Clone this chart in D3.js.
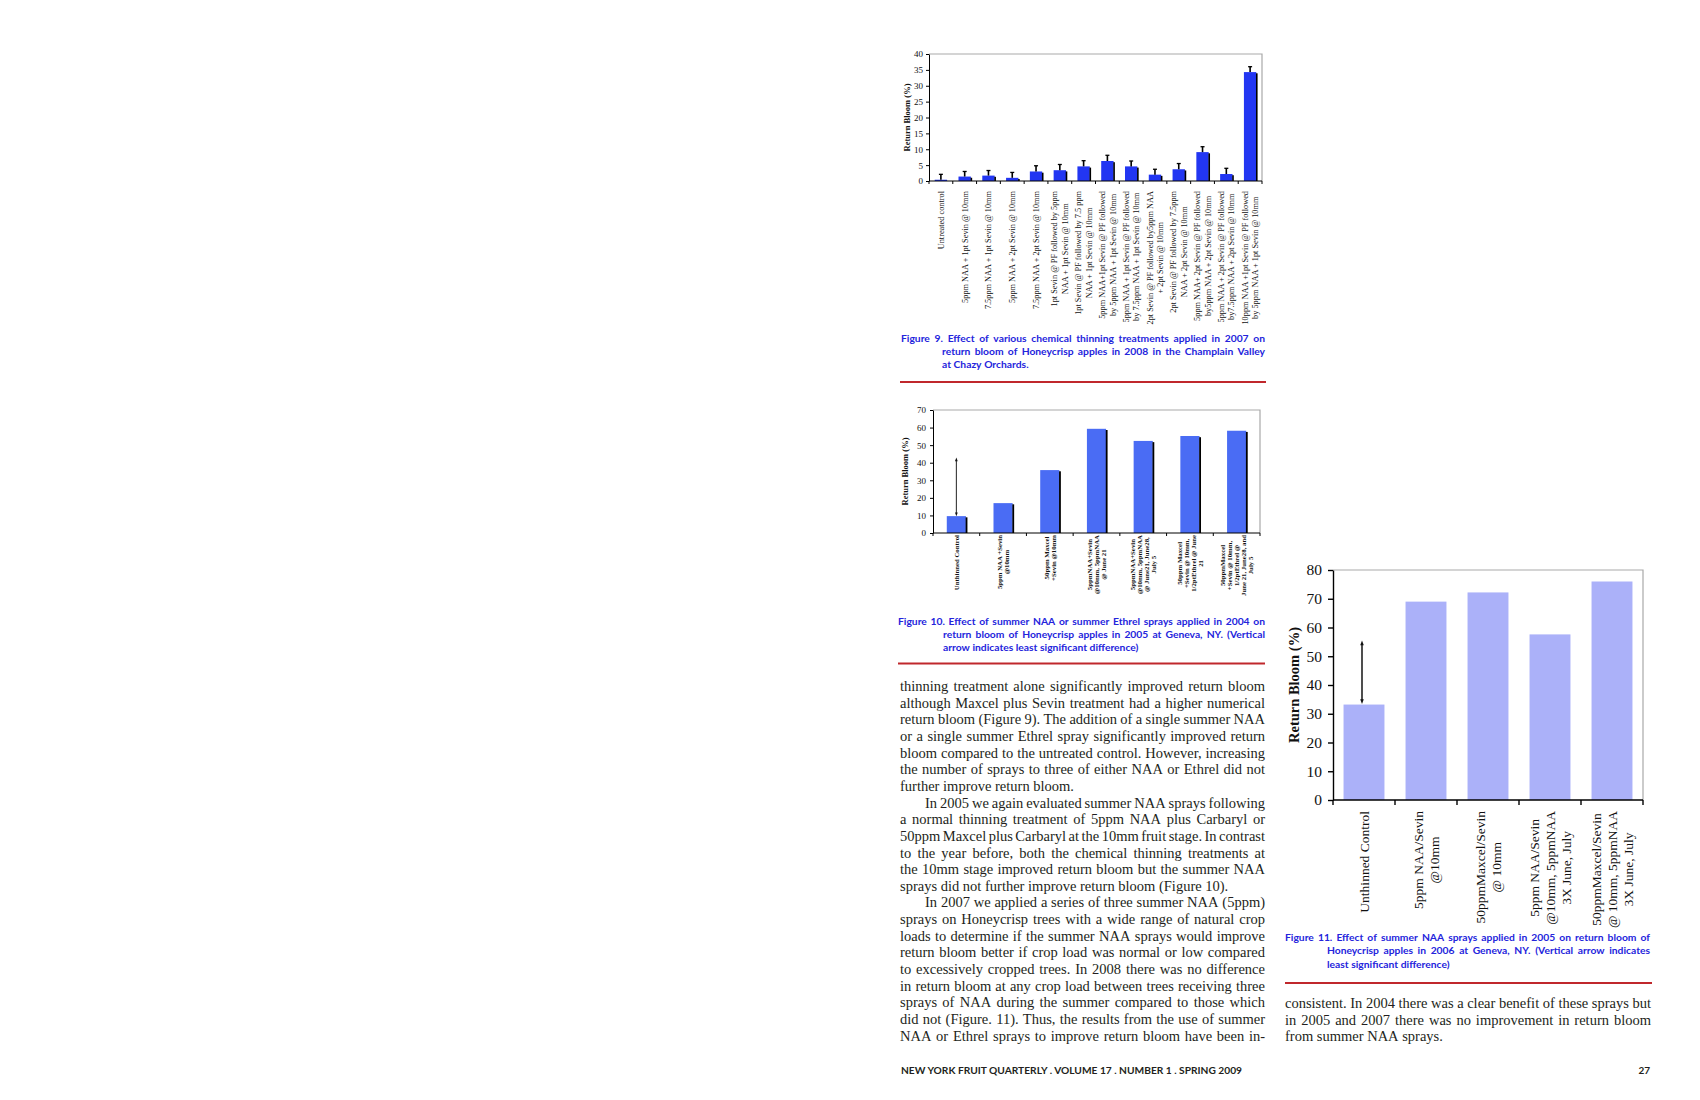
<!DOCTYPE html>
<html><head><meta charset="utf-8">
<script src="https://cdn.jsdelivr.net/npm/d3@7"></script>
<style>body{margin:0;background:#fff}svg{display:block}</style>
</head><body>
<svg id="page" width="1700" height="1100"></svg>
<script>
// ---------------- DATA ----------------
const fig9Categories = [
  "Untreated control",
  "5ppm NAA + 1pt Sevin @ 10mm",
  "7.5ppm NAA + 1pt Sevin @ 10mm",
  "5ppm NAA + 2pt Sevin @ 10mm",
  "7.5ppm NAA + 2pt Sevin @ 10mm",
  "1pt Sevin @ PF followed by 5ppm\nNAA + 1pt Sevin @ 10mm",
  "1pt Sevin @ PF followed by 7.5 ppm\nNAA + 1pt Sevin @ 10mm",
  "5ppm NAA+1pt Sevin @ PF followed\nby 5ppm NAA + 1pt Sevin @ 10mm",
  "5ppm NAA + 1pt Sevin @  PF followed\nby 7.5ppm NAA + 1pt Sevin @ 10mm",
  "2pt Sevin @ PF followed by5ppm NAA\n+ 2pt Sevin @ 10mm",
  "2pt Sevin @ PF followed by 7.5ppm\nNAA + 2pt Sevin @ 10mm",
  "5ppm NAA+ 2pt Sevin @ PF followed\nby5ppm NAA + 2pt Sevin @ 10mm",
  "5ppm NAA + 2pt Sevin @ PF followed\nby7.5ppm NAA + 2pt Sevin @ 10mm",
  "10ppm NAA +1pt Sevin @ PF followed\nby 5ppm NAA + 1pt Sevin @ 10mm"
];
const fig9Values = [0.4, 1.4, 1.7, 1.0, 3.0, 3.4, 4.6, 6.3, 4.6, 2.0, 3.7, 9.1, 2.2, 34.3];
const fig9Errors = [1.7, 1.6, 1.6, 1.7, 1.8, 1.8, 1.8, 1.8, 1.7, 1.7, 1.8, 1.7, 1.8, 1.7];
const fig9Ticks = [0, 5, 10, 15, 20, 25, 30, 35, 40];

const fig10Categories = [
  "Unthinned Control",
  "5ppm NAA +Sevin\n@10mm",
  "50ppm Maxcel\n+Sevin @10mm",
  "5ppmNAA+Sevin\n@10mm, 5ppmNAA\n@  June 21",
  "5ppmNAA+Sevin\n@10mm, 5ppmNAA\n@  June21, June28,\nJuly 5",
  "50ppm Maxcel\n+Sevin @ 10mm,\n1/2ptEthrel @  June\n21",
  "50ppmMaxcel\n+Sevin @ 10mm,\n1/2ptEthrel @\nJune 21, June28, and\nJuly 5"
];
const fig10Values = [9.6, 17.0, 35.8, 59.3, 52.4, 55.2, 58.2];
const fig10Lsd = [9.6, 43];
const fig10Ticks = [0, 10, 20, 30, 40, 50, 60, 70];

const fig11Categories = [
  "Unthinned Control",
  "5ppm NAA/Sevin\n@10mm",
  "50ppmMaxcel/Sevin\n@ 10mm",
  "5ppm NAA/Sevin\n@10mm, 5ppmNAA\n3X June, July",
  "50ppmMaxcel/Sevin\n@ 10mm, 5ppmNAA\n3X June, July"
];
const fig11Values = [33.2, 69.0, 72.2, 57.6, 76.0];
const fig11Lsd = [33.4, 55.5];
const fig11Ticks = [0, 10, 20, 30, 40, 50, 60, 70, 80];

const fig9Caption = [
  {t: "Figure 9. Effect of various chemical thinning treatments applied in 2007 on", ind: 0},
  {t: "return bloom of Honeycrisp apples in 2008 in the Champlain Valley", ind: 41},
  {t: "at Chazy Orchards.", ind: 41, last: true}
];
const fig10Caption = [
  {t: "Figure 10. Effect of summer NAA or summer Ethrel sprays applied in 2004 on", ind: 0},
  {t: "return bloom of Honeycrisp apples in 2005 at Geneva, NY. (Vertical", ind: 45},
  {t: "arrow indicates least significant difference)", ind: 45, last: true}
];
const fig11Caption = [
  {t: "Figure 11. Effect of summer NAA sprays applied in 2005 on return bloom of", ind: 0},
  {t: "Honeycrisp apples in 2006 at Geneva, NY. (Vertical arrow indicates", ind: 42},
  {t: "least significant difference)", ind: 42, last: true}
];
const leftText = [
  {t: "thinning treatment alone significantly improved return bloom"},
  {t: "although Maxcel plus Sevin treatment had a higher numerical"},
  {t: "return bloom (Figure 9). The addition of a single summer NAA"},
  {t: "or a single summer Ethrel spray significantly improved return"},
  {t: "bloom compared to the untreated control. However, increasing"},
  {t: "the number of sprays to three of either NAA or Ethrel did not"},
  {t: "further improve return bloom.", last: true},
  {t: "In 2005 we again evaluated summer NAA sprays following", ind: 25},
  {t: "a normal thinning treatment of 5ppm NAA plus Carbaryl or"},
  {t: "50ppm Maxcel plus Carbaryl at the 10mm fruit stage. In contrast"},
  {t: "to the year before, both the chemical thinning treatments at"},
  {t: "the 10mm stage improved return bloom but the summer NAA"},
  {t: "sprays did not further improve return bloom (Figure 10).", last: true},
  {t: "In 2007 we applied a series of three summer NAA (5ppm)", ind: 25},
  {t: "sprays on Honeycrisp trees with a wide range of natural crop"},
  {t: "loads to determine if the summer NAA sprays would improve"},
  {t: "return bloom better if crop load was normal or low compared"},
  {t: "to excessively cropped trees. In 2008 there was no difference"},
  {t: "in return bloom at any crop load between trees receiving three"},
  {t: "sprays of NAA during the summer compared to those which"},
  {t: "did not (Figure. 11). Thus, the results from the use of summer"},
  {t: "NAA or Ethrel sprays to improve return bloom have been in-"}
];
const rightText = [
  {t: "consistent. In 2004 there was a clear benefit of these sprays but"},
  {t: "in 2005 and 2007 there was no improvement in return bloom"},
  {t: "from summer NAA sprays.", last: true}
];
const footerText = "NEW YORK FRUIT QUARTERLY . VOLUME 17  . NUMBER 1 . SPRING 2009";
const pageNumber = "27";

// ---------------- DRAWING ----------------
const svg = d3.select("#page");
const SERIF = "'Liberation Serif','Times New Roman',serif";
const SANS = "Lato,'Noto Sans','Liberation Sans',sans-serif";
const CAPBLUE = "#2424dc";
const RED = "#c0282c";

function textBlock(lines, o) {
  const g = svg.append("g");
  lines.forEach((ln, i) => {
    const y = o.y + i * o.lh;
    const ind = ln.ind || 0;
    const x0 = o.x + ind, W = o.width - ind;
    const words = ln.t.split(" ").filter(w => w.length);
    const nodes = words.map(w => g.append("text")
      .attr("y", y).attr("font-family", o.font).attr("font-size", o.size)
      .attr("font-weight", o.weight || "normal").attr("fill", o.color).text(w));
    const widths = nodes.map(n => n.node().getComputedTextLength());
    const sum = d3.sum(widths);
    let gap = o.size * 0.25, scale = 1;
    if (!ln.last && words.length > 1) {
      gap = (W - sum) / (words.length - 1);
      const minGap = o.size * 0.16;
      if (gap < minGap) { gap = minGap; scale = (W - minGap * (words.length - 1)) / sum; }
    }
    let cx = x0;
    nodes.forEach((n, k) => {
      n.attr("x", cx);
      if (scale !== 1) n.attr("textLength", widths[k] * scale).attr("lengthAdjust", "spacingAndGlyphs");
      cx += widths[k] * scale + gap;
    });
  });
}

function drawChart(o) {
  const g = svg.append("g");
  const x = d3.scaleBand().domain(o.categories).range([o.x0, o.x1])
    .paddingInner(o.pad).paddingOuter(o.pad / 2);
  const y = d3.scaleLinear().domain([0, o.yMax]).range([o.yB, o.yT]);
  const step = x.step();

  g.append("path").attr("d", `M${o.x0},${o.yT}H${o.x1}V${o.yB}`)
    .attr("fill", "none").attr("stroke", "#a9a9a9").attr("stroke-width", 1.2);

  g.selectAll("rect.bar").data(o.values).join("rect").attr("class", "bar")
    .attr("x", (d, i) => x(o.categories[i])).attr("width", x.bandwidth())
    .attr("y", d => y(d)).attr("height", d => y(0) - y(d)).attr("fill", o.color);
  if (o.shadow) {
    g.selectAll("rect.sh").data(o.values).join("rect").attr("class", "sh")
      .attr("x", (d, i) => x(o.categories[i]) + x.bandwidth() - 0.3).attr("width", o.shadow)
      .attr("y", d => Math.min(y(d) + 1.2, y(0))).attr("height", d => Math.max(0, y(0) - y(d) - 1.2))
      .attr("fill", "#000");
  }
  if (o.errors) {
    o.values.forEach((v, i) => {
      const cx = x(o.categories[i]) + x.bandwidth() / 2;
      g.append("line").attr("x1", cx).attr("x2", cx).attr("y1", y(v)).attr("y2", y(v + o.errors[i]))
        .attr("stroke", "#000").attr("stroke-width", 1.6);
      g.append("line").attr("x1", cx - 2).attr("x2", cx + 2).attr("y1", y(v + o.errors[i])).attr("y2", y(v + o.errors[i]))
        .attr("stroke", "#000").attr("stroke-width", 1.3);
    });
  }
  if (o.lsd) {
    const cx = x(o.categories[0]) + x.bandwidth() / 2 + (o.lsdDx || 0);
    const a = o.arrow;
    const y1 = y(o.lsd[0]), y2 = y(o.lsd[1]);
    g.append("line").attr("x1", cx).attr("x2", cx).attr("y1", y1 - a * 1.5).attr("y2", y2 + a * 1.5)
      .attr("stroke", "#222").attr("stroke-width", o.arrowW);
    g.append("path").attr("d", `M${cx},${y2}l${-a * 0.8},${a * 2.2}h${a * 1.6}z`).attr("fill", "#111");
    g.append("path").attr("d", `M${cx},${y1}l${-a * 0.8},${-a * 2.2}h${a * 1.6}z`).attr("fill", "#111");
  }

  const ya = g.append("g").attr("transform", `translate(${o.x0},0)`)
    .call(d3.axisLeft(y).tickValues(o.ticks).tickSize(o.tickLen).tickSizeOuter(0).tickPadding(o.tickPad));
  ya.select(".domain").attr("stroke", "#000").attr("stroke-width", o.axisW);
  ya.selectAll(".tick line").attr("stroke", "#000").attr("stroke-width", o.axisW);
  ya.selectAll(".tick text").attr("font-family", SERIF).attr("font-size", o.tickFont).attr("fill", "#111");

  g.append("line").attr("x1", o.x0).attr("x2", o.x1).attr("y1", o.yB).attr("y2", o.yB)
    .attr("stroke", "#000").attr("stroke-width", o.axisW);
  const bounds = o.categories.map(c => x(c) - step * o.pad / 2).concat([o.x1]);
  g.selectAll("line.xt").data(bounds).join("line").attr("class", "xt")
    .attr("x1", d => d).attr("x2", d => d).attr("y1", o.yB).attr("y2", o.yB + o.tickLen)
    .attr("stroke", "#000").attr("stroke-width", o.axisW);

  o.categories.forEach((c, i) => {
    const cx = x(c) + x.bandwidth() / 2;
    const lines = c.split("\n");
    const lg = g.append("g").attr("transform", `translate(${cx},${o.labelTop}) rotate(-90)`);
    const ts = lines.map((l, k) => lg.append("text")
      .attr("y", (k - (lines.length - 1) / 2) * o.labelLh + o.labelFont * 0.35)
      .attr("text-anchor", "middle").attr("font-family", SERIF).attr("font-size", o.labelFont)
      .attr("font-weight", o.labelWeight || "normal").attr("fill", "#111").text(l));
    const W = d3.max(ts, t => t.node().getComputedTextLength());
    ts.forEach(t => t.attr("x", -W / 2));
  });

  g.append("text").attr("transform", `translate(${o.titleX},${(o.yT + o.yB) / 2}) rotate(-90)`)
    .attr("text-anchor", "middle").attr("dy", "0.35em").attr("font-family", SERIF)
    .attr("font-weight", "bold").attr("font-size", o.titleFont).attr("fill", "#111").text("Return Bloom (%)");
}

drawChart({
  categories: fig9Categories, values: fig9Values, errors: fig9Errors, ticks: fig9Ticks,
  x0: 929, x1: 1262, yT: 54, yB: 181, yMax: 40, pad: 0.48,
  color: "#2236f2", shadow: 1.6, tickLen: 3, tickPad: 3, tickFont: 9, axisW: 1,
  labelTop: 191, labelFont: 8.3, labelLh: 10.5, titleX: 907, titleFont: 8.5
});
drawChart({
  categories: fig10Categories, values: fig10Values, ticks: fig10Ticks,
  x0: 933, x1: 1260, yT: 410, yB: 533, yMax: 70, pad: 0.59,
  color: "#4a6cf4", shadow: 1.8, tickLen: 3, tickPad: 4, tickFont: 9, axisW: 1,
  lsd: fig10Lsd, arrow: 1.7, arrowW: 1, lsdDx: 0,
  labelTop: 535, labelFont: 6.8, labelLh: 7, labelWeight: "bold", titleX: 905, titleFont: 8.5
});
drawChart({
  categories: fig11Categories, values: fig11Values, ticks: fig11Ticks,
  x0: 1333, x1: 1643, yT: 570, yB: 800, yMax: 80, pad: 0.34,
  color: "#abb1f9", shadow: 0, tickLen: 5, tickPad: 6, tickFont: 15.5, axisW: 1.4,
  lsd: fig11Lsd, arrow: 2.2, arrowW: 1.6, lsdDx: -2,
  labelTop: 811, labelFont: 13.5, labelLh: 16, titleX: 1294, titleFont: 14.5
});

textBlock(fig9Caption, {x: 901, y: 342, lh: 13, width: 364, font: SANS, size: 10.3, weight: "bold", color: CAPBLUE});
textBlock(fig10Caption, {x: 898, y: 625, lh: 13, width: 367, font: SANS, size: 10.3, weight: "bold", color: CAPBLUE});
textBlock(fig11Caption, {x: 1285, y: 940.5, lh: 13.5, width: 365, font: SANS, size: 10.3, weight: "bold", color: CAPBLUE});

[[900, 1266, 382], [898, 1265, 663.5], [1285, 1652, 983]].forEach(r =>
  svg.append("line").attr("x1", r[0]).attr("x2", r[1]).attr("y1", r[2]).attr("y2", r[2])
    .attr("stroke", RED).attr("stroke-width", 2));

textBlock(leftText, {x: 900, y: 691, lh: 16.65, width: 365, font: SERIF, size: 14.5, color: "#231f20"});
textBlock(rightText, {x: 1285, y: 1008, lh: 16.65, width: 366, font: SERIF, size: 14.5, color: "#231f20"});

svg.append("text").attr("x", 901).attr("y", 1074).attr("font-family", SANS).attr("font-weight", "bold")
  .attr("font-size", 9.6).attr("fill", "#231f20").attr("textLength", 341).attr("lengthAdjust", "spacingAndGlyphs")
  .text(footerText);
svg.append("text").attr("x", 1650).attr("y", 1074).attr("text-anchor", "end").attr("font-family", SANS)
  .attr("font-weight", "bold").attr("font-size", 10).attr("fill", "#231f20").text(pageNumber);
</script>
</body></html>
